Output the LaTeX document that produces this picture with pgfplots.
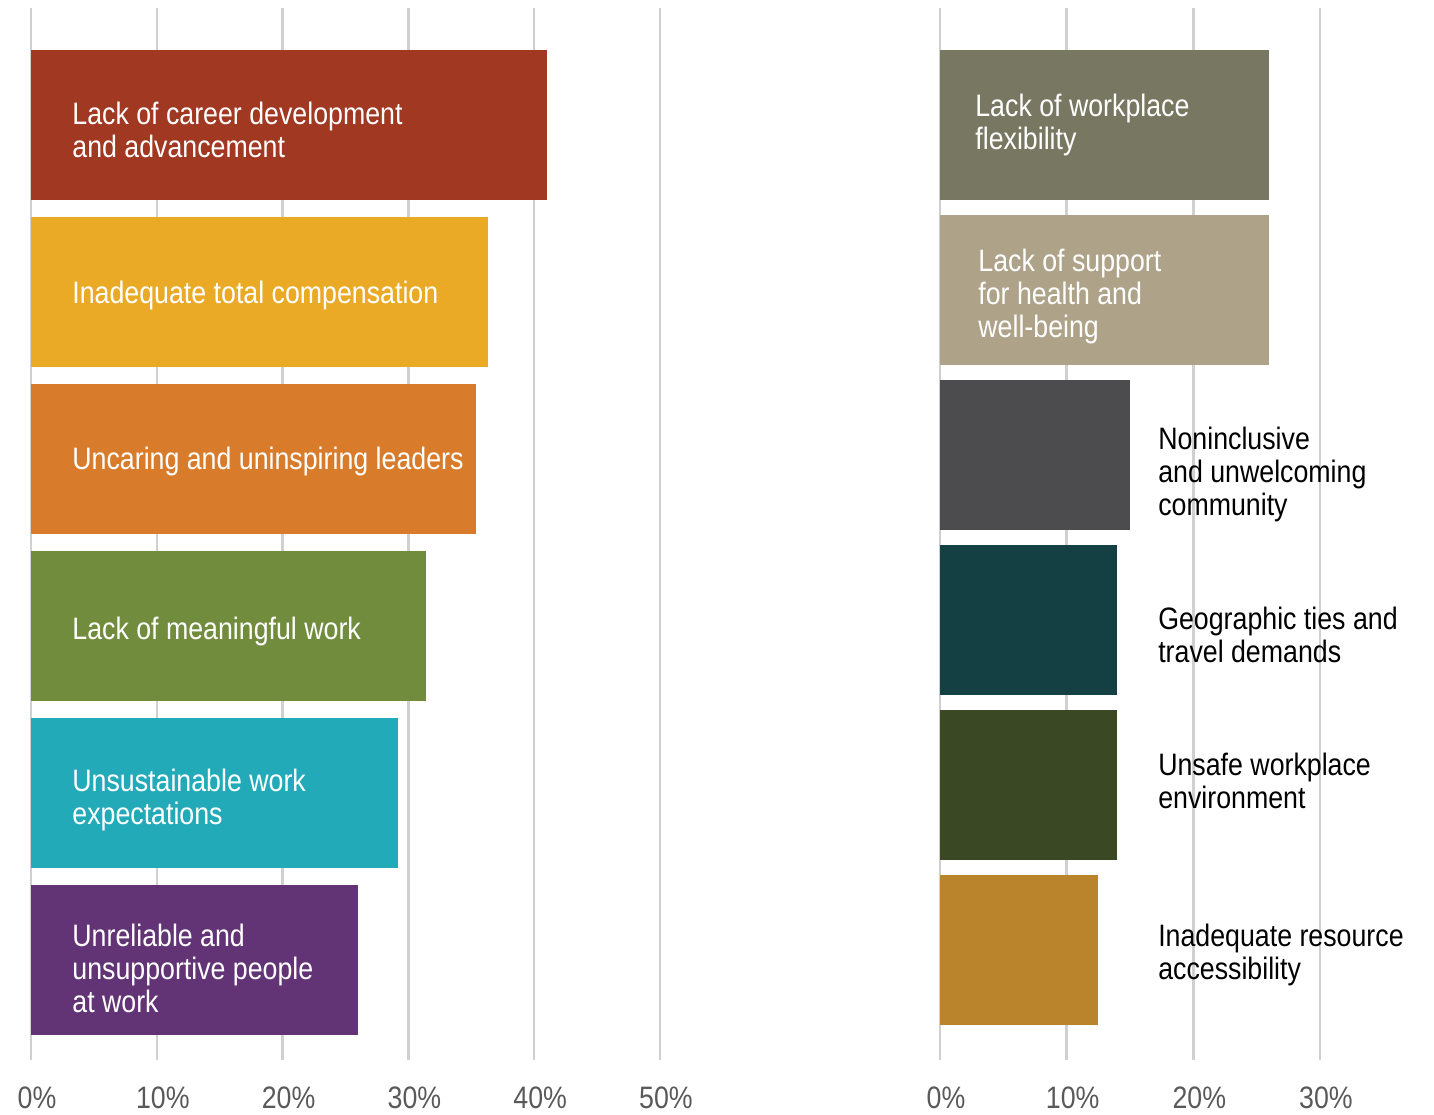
\documentclass[border=0pt]{standalone}
\usepackage{fontspec}
\setmainfont{Liberation Sans}[FakeStretch=0.863]
\usepackage{pgfplots}
\pgfplotsset{compat=1.18}
\definecolor{cA}{HTML}{A03822}
\definecolor{cB}{HTML}{EAAA26}
\definecolor{cC}{HTML}{D87C2B}
\definecolor{cD}{HTML}{728C3E}
\definecolor{cE}{HTML}{23AAB9}
\definecolor{cF}{HTML}{623475}
\definecolor{rA}{HTML}{787862}
\definecolor{rB}{HTML}{AEA389}
\definecolor{rC}{HTML}{4C4C4E}
\definecolor{rD}{HTML}{144044}
\definecolor{rE}{HTML}{3A4824}
\definecolor{rF}{HTML}{B9842C}
\definecolor{tickgray}{HTML}{595959}
\definecolor{gridgray}{HTML}{D0D0D0}
\newcommand{\lbl}{\fontsize{15.5}{16.5}\selectfont}
\pgfplotsset{
  panel/.style={
    scale only axis, height=526pt,
    y dir=reverse, ymin=8, ymax=1060,
    xmin=0, anchor=south west,
    axis line style={draw=none}, major tick length=0pt,
    ytick=\empty,
    xmajorgrids, grid style={gridgray, line width=1.2pt},
    xticklabel style={font=\lbl, text=tickgray, yshift=-10pt, xshift=3pt},
    xbar, bar width=150, bar shift=0pt,
    clip=false,
  },
}
\begin{document}
\begin{tikzpicture}
\useasboundingbox (0,0) rectangle (717pt,557pt);
\begin{axis}[panel, at={(15.5pt,27pt)}, width=314.5pt, xmax=50,
  xtick={0,10,20,30,40,50}, xticklabels={0\%,10\%,20\%,30\%,40\%,50\%}]
\addplot[fill=cA, draw=none] coordinates {(41.0,125)};
\addplot[fill=cB, draw=none] coordinates {(36.3,292)};
\addplot[fill=cC, draw=none] coordinates {(35.4,459)};
\addplot[fill=cD, draw=none] coordinates {(31.4,626)};
\addplot[fill=cE, draw=none] coordinates {(29.2,793)};
\addplot[fill=cF, draw=none] coordinates {(26.0,960)};
\begin{scope}[every node/.style={anchor=west, align=left, text=white, font=\lbl, inner sep=0pt}]
\node at (axis cs:3.26,130) {Lack of career development\\and advancement};
\node at (axis cs:3.26,295) {Inadequate total compensation};
\node at (axis cs:3.26,461) {Uncaring and uninspiring leaders};
\node at (axis cs:3.26,631) {Lack of meaningful work};
\node at (axis cs:3.26,800) {Unsustainable work\\expectations};
\node at (axis cs:3.26,968) {Unreliable and\\unsupportive people\\at work};
\end{scope}
\end{axis}
\begin{axis}[panel, at={(470pt,27pt)}, width=190pt, xmax=30,
  xtick={0,10,20,30}, xticklabels={0\%,10\%,20\%,30\%}]
\addplot[fill=rA, draw=none] coordinates {(26.0,125)};
\addplot[fill=rB, draw=none] coordinates {(26.0,290)};
\addplot[fill=rC, draw=none] coordinates {(15.0,455)};
\addplot[fill=rD, draw=none] coordinates {(14.0,620)};
\addplot[fill=rE, draw=none] coordinates {(14.0,785)};
\addplot[fill=rF, draw=none] coordinates {(12.5,950)};
\begin{scope}[every node/.style={anchor=west, align=left, font=\lbl, inner sep=0pt}]
\node[text=white] at (axis cs:2.76,125) {Lack of workplace\\flexibility};
\node[text=white] at (axis cs:3.0,296) {Lack of support\\for health and\\well-being};
\node[text=black] at (axis cs:17.2,474) {Noninclusive\\and unwelcoming\\community};
\node[text=black] at (axis cs:17.2,635) {Geographic ties and\\travel demands};
\node[text=black] at (axis cs:17.2,781) {Unsafe workplace\\environment};
\node[text=black] at (axis cs:17.2,955) {Inadequate resource\\accessibility};
\end{scope}
\end{axis}
\end{tikzpicture}
\end{document}
